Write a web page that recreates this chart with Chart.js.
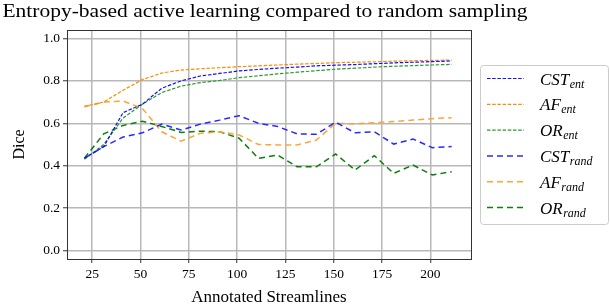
<!DOCTYPE html>
<html>
<head>
<meta charset="utf-8">
<script src="https://cdn.jsdelivr.net/npm/chart.js@4/dist/chart.umd.min.js"></script>
<style>
  html, body { margin: 0; padding: 0; background: #fff; }
  #wrap { width: 610px; height: 308px; position: relative; }
</style>
</head>
<body>
<div id="wrap"><canvas id="c" width="610" height="308"></canvas></div>
<script>
// ---- data ----
const annotated = [21, 31, 41, 51, 61, 71, 81, 91, 101, 111, 121, 131, 141, 151, 161, 171, 181, 191, 201, 211];
const cstEnt  = [0.435, 0.49, 0.65, 0.69, 0.765, 0.80, 0.823, 0.835, 0.847, 0.854, 0.86, 0.865, 0.871, 0.874, 0.877, 0.881, 0.885, 0.888, 0.891, 0.894];
const afEnt   = [0.68, 0.70, 0.756, 0.806, 0.837, 0.851, 0.857, 0.862, 0.867, 0.871, 0.875, 0.879, 0.882, 0.886, 0.888, 0.890, 0.893, 0.895, 0.897, 0.898];
const orEnt   = [0.43, 0.50, 0.625, 0.69, 0.745, 0.775, 0.792, 0.802, 0.815, 0.824, 0.833, 0.841, 0.848, 0.855, 0.860, 0.865, 0.869, 0.872, 0.875, 0.878];
const cstRand = [0.435, 0.49, 0.535, 0.555, 0.596, 0.568, 0.596, 0.615, 0.636, 0.60, 0.585, 0.55, 0.548, 0.605, 0.555, 0.56, 0.502, 0.526, 0.485, 0.49];
const afRand  = [0.678, 0.70, 0.705, 0.67, 0.56, 0.516, 0.553, 0.56, 0.545, 0.50, 0.498, 0.498, 0.521, 0.60, 0.597, 0.603, 0.608, 0.615, 0.622, 0.626];
const orRand  = [0.435, 0.55, 0.59, 0.61, 0.585, 0.557, 0.563, 0.56, 0.53, 0.435, 0.45, 0.395, 0.395, 0.455, 0.38, 0.447, 0.364, 0.403, 0.356, 0.372];
const xTickValues = [25, 50, 75, 100, 125, 150, 175, 200];
const yTickValues = [0.0, 0.2, 0.4, 0.6, 0.8, 1.0];
const seriesLabels = ['CST_ent', 'AF_ent', 'OR_ent', 'CST_rand', 'AF_rand', 'OR_rand'];
const chartTitle = 'Entropy-based active learning compared to random sampling';

const SERIF = "'Liberation Serif', 'DejaVu Serif', serif";
const toPts = arr => arr.map((v, i) => ({ x: annotated[i], y: v }));

const styles = [
  { color: '#1010ff', dash: [3.5, 1.7], width: 1.2 },
  { color: '#ff8c00', dash: [3.5, 1.7], width: 1.2 },
  { color: '#2a9a2a', dash: [3.5, 1.7], width: 1.2 },
  { color: '#2a2aff', dash: [6, 4], width: 1.5 },
  { color: '#ffa536', dash: [6, 4], width: 1.5 },
  { color: '#0a7f0a', dash: [6, 4], width: 1.5 }
];
const seriesData = [cstEnt, afEnt, orEnt, cstRand, afRand, orRand];

const datasets = seriesData.map((d, i) => ({
  label: seriesLabels[i],
  data: toPts(d),
  borderColor: styles[i].color,
  backgroundColor: styles[i].color,
  borderDash: styles[i].dash,
  borderWidth: styles[i].width,
  pointRadius: 0,
  fill: false,
  tension: 0
}));

const framePlugin = {
  id: 'frame',
  afterDraw(chart) {
    const { ctx, chartArea: a } = chart;
    ctx.save();
    ctx.strokeStyle = '#333';
    ctx.lineWidth = 1;
    ctx.strokeRect(Math.round(a.left) + 0.5, Math.round(a.top) + 0.5, Math.round(a.right - a.left), Math.round(a.bottom - a.top));
    ctx.restore();
  }
};

// Title drawn in a wide serif (Computer-Modern-like proportions)
const wideTitlePlugin = {
  id: 'wideTitle',
  afterDraw(chart) {
    const ctx = chart.ctx;
    ctx.save();
    ctx.font = "19px " + SERIF;
    const w = ctx.measureText(chartTitle).width;
    const target = 525;
    const sx = target / w;
    ctx.translate(265, 17);
    ctx.scale(sx, 1);
    ctx.fillStyle = '#000';
    ctx.textAlign = 'center';
    ctx.textBaseline = 'alphabetic';
    ctx.fillText(chartTitle, 0, 0);
    ctx.restore();
  }
};

const legendPlugin = {
  id: 'mathLegend',
  afterDraw(chart) {
    const ctx = chart.ctx;
    const bx = 480.5, by = 65.5, bw = 128, bh = 159;
    ctx.save();
    ctx.beginPath();
    ctx.roundRect(bx, by, bw, bh, 3);
    ctx.fillStyle = 'rgba(255,255,255,0.85)';
    ctx.fill();
    ctx.strokeStyle = '#cccccc';
    ctx.lineWidth = 1;
    ctx.stroke();
    chart.data.datasets.forEach((ds, i) => {
      const y = 78.5 + i * 25.8;
      ctx.beginPath();
      ctx.setLineDash(ds.borderDash);
      ctx.strokeStyle = ds.borderColor;
      ctx.lineWidth = ds.borderWidth;
      ctx.moveTo(487, y);
      ctx.lineTo(524, y);
      ctx.stroke();
      ctx.setLineDash([]);
      const [main, sub] = ds.label.split('_');
      ctx.fillStyle = '#000';
      ctx.textBaseline = 'alphabetic';
      ctx.textAlign = 'left';
      ctx.font = "italic 17px " + SERIF;
      ctx.fillText(main, 540, y + 6);
      const w = ctx.measureText(main).width;
      ctx.font = "italic 12px " + SERIF;
      ctx.fillText(sub, 540 + w + 0.5, y + 9);
    });
    ctx.restore();
  }
};

new Chart(document.getElementById('c'), {
  type: 'line',
  data: { datasets },
  plugins: [framePlugin, wideTitlePlugin, legendPlugin],
  options: {
    responsive: false,
    animation: false,
    devicePixelRatio: 1,
    layout: { padding: { left: 0, right: 139, top: 30, bottom: 0 } },
    plugins: {
      legend: { display: false },
      tooltip: { enabled: false },
      title: { display: false }
    },
    scales: {
      x: {
        type: 'linear',
        min: 12,
        max: 221,
        afterBuildTicks(axis) { axis.ticks = xTickValues.map(v => ({ value: v })); },
        afterFit(scale) { scale.height = 49; },
        ticks: { color: '#000', font: { family: SERIF, size: 13.5 }, padding: 3, maxRotation: 0, autoSkip: false },
        grid: { color: '#b8b8b8', lineWidth: 1.5, tickColor: '#333', tickLength: 4, tickWidth: 1 },
        border: { display: true, color: '#333', width: 1 },
        title: { display: true, text: 'Annotated Streamlines', color: '#000', font: { family: SERIF, size: 17, lineHeight: 1.2 }, padding: { top: 0, bottom: 0 } }
      },
      y: {
        type: 'linear',
        min: -0.04,
        max: 1.04,
        afterBuildTicks(axis) { axis.ticks = yTickValues.map(v => ({ value: v })); },
        afterFit(scale) { scale.width = 67; },
        ticks: { color: '#000', font: { family: SERIF, size: 13.5 }, padding: 3, callback: v => Number(v).toFixed(1) },
        grid: { color: '#b8b8b8', lineWidth: 1.5, tickColor: '#333', tickLength: 4, tickWidth: 1 },
        border: { display: true, color: '#333', width: 1 },
        title: { display: true, text: 'Dice', color: '#000', font: { family: SERIF, size: 16, lineHeight: 1.2 }, padding: { top: 10.4, bottom: 0 } }
      }
    }
  }
});
</script>
</body>
</html>
